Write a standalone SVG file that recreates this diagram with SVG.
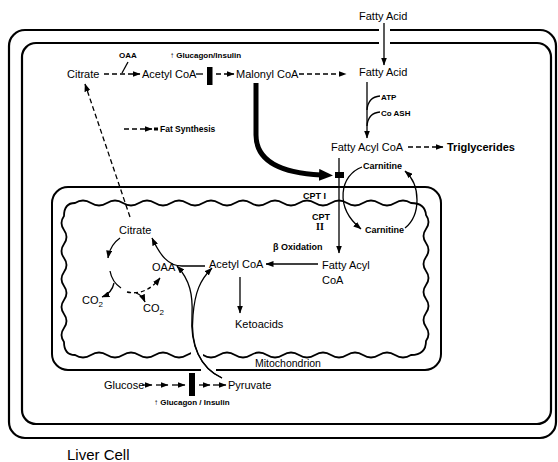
<svg xmlns="http://www.w3.org/2000/svg" width="558" height="462" viewBox="0 0 558 462">
<style>
text{font-family:"Liberation Sans",Arial,"DejaVu Sans",sans-serif;fill:#000}
.m{font-size:11px}
.s{font-size:8px;font-weight:bold}
.c{font-size:9px;font-weight:bold}
.b{fill:none;stroke:#000;stroke-width:2.2}
.w{fill:none;stroke:#000;stroke-width:1.8}
.l{fill:none;stroke:#000;stroke-width:1.3}
.d{fill:none;stroke:#000;stroke-width:1.3;stroke-dasharray:5 3}
.dd{fill:none;stroke:#000;stroke-width:1.3;stroke-dasharray:4 3}
.gap{fill:#fff;stroke:none}
</style>
<defs>
<marker id="ah" viewBox="0 0 8 6" refX="7.5" refY="3" markerWidth="8" markerHeight="6" markerUnits="userSpaceOnUse" orient="auto"><path d="M0,0 L8,3 L0,6 z"/></marker>
<marker id="big" viewBox="0 0 14 12" refX="2" refY="6" markerWidth="14" markerHeight="12" markerUnits="userSpaceOnUse" orient="auto"><path d="M0,0 L14,6 L0,12 z"/></marker>
</defs>

<g id="cell">
<rect class="b" x="9" y="30" width="547" height="408" rx="16"/>
<rect class="b" x="22" y="43" width="529" height="381" rx="14"/>
<rect class="gap" x="379" y="25" width="11" height="10"/>
<rect class="gap" x="379" y="38" width="11" height="10"/>
</g>

<g id="mitochondrion">
<rect class="b" x="52" y="187" width="389" height="183" rx="16" style="stroke-width:2"/>
<path class="w" d="M75,203 q8,-5 16,0 t16,0 t16,0 t16,0 t16,0 t16,0 t16,0 t16,0 t16,0 t16,0 t16,0 t16,0 t16,0 t16,0 t16,0 t16,0 t16,0 t16,0 t16,0 t16,0 t16,0 Q425,203 426,215 q5,7 0,14 t0,14 t0,14 t0,14 t0,14 t0,14 t0,14 t0,14 t0,14 Q426,355 411,355 q-8,5 -16,0 t-16,0 t-16,0 t-16,0 t-16,0 t-16,0 t-16,0 t-16,0 t-16,0 t-16,0 t-16,0 t-16,0 t-16,0 t-16,0 t-16,0 t-16,0 t-16,0 t-16,0 t-16,0 t-16,0 t-16,0 Q64,355 64,342 q-5,-7 0,-14 t0,-14 t0,-14 t0,-14 t0,-14 t0,-14 t0,-14 t0,-14 t0,-14 Q64,203 75,203 Z"/>
<rect class="gap" x="191" y="348" width="12" height="13"/>
<rect class="gap" x="201" y="367" width="15" height="7"/>
<text class="m" x="255" y="367" style="font-size:10.5px">Mitochondrion</text>
</g>

<g id="connectors">
<path class="l" d="M384,23 L384,65" marker-end="url(#ah)"/>
<path class="d" d="M104,74 L140,74" marker-end="url(#ah)"/>
<path class="l" d="M128,62 L122,73"/>
<path class="l" d="M196,74 L203,74"/>
<rect x="207" y="67" width="5.5" height="18"/>
<path class="d" d="M216,74 L234,74" marker-end="url(#ah)"/>
<path class="d" d="M299,74 L346,74" marker-end="url(#ah)"/>
<path class="l" d="M367,82 L367,138" marker-end="url(#ah)"/>
<path class="l" d="M380,96 Q368,97 367,110"/>
<path class="l" d="M380,112 Q368,113 367,126"/>
<path class="d" d="M408,147 L443,147" marker-end="url(#ah)"/>
<path class="d" d="M124,129 L152,129" marker-end="url(#ah)"/>
<rect x="154" y="127.5" width="4" height="3"/>
<path d="M256,83 L256,135 C256,162 282,173 321,175" fill="none" stroke="#000" stroke-width="5" marker-end="url(#big)"/>
<path class="d" d="M130,217 L85,84" marker-end="url(#ah)"/>
<path class="l" d="M339,158 L339,253" marker-end="url(#ah)"/>
<rect x="335" y="172" width="9" height="6"/>
<path class="l" d="M362,167 C340,175 334,207 361,229" marker-end="url(#ah)"/>
<path class="l" d="M405,228 C421,215 421,185 405,171" marker-end="url(#ah)"/>
<path class="l" d="M318,264 L266,264" marker-end="url(#ah)"/>
<path class="l" d="M240,277 L240,313" marker-end="url(#ah)"/>
<path class="l" d="M205,266 L182,266 C168,266 160,255 152,238" marker-end="url(#ah)"/>
<path class="l" d="M120,238 Q110,245 108,258" marker-end="url(#ah)"/>
<path class="l" d="M110,271 Q112,282 121,288"/>
<path class="l" d="M114,283 Q112,293 102,297" marker-end="url(#ah)"/>
<path class="dd" d="M127,292 Q146,296 160,278" marker-end="url(#ah)"/>
<path class="l" d="M136,293 Q142,295 145,302" marker-end="url(#ah)"/>
<path class="l" d="M222,378 C200,368 190,345 192,315 C193,295 190,280 177,266" marker-end="url(#ah)"/>
<path class="l" d="M222,378 C200,368 190,345 193,315 C195,292 200,280 212,268" marker-end="url(#ah)"/>
<path class="l" d="M142,385 L152,385" marker-end="url(#ah)"/>
<path class="l" d="M156,385 L168,385" marker-end="url(#ah)"/>
<path class="l" d="M172,385 L185,385" marker-end="url(#ah)"/>
<rect x="189" y="373" width="6" height="23"/>
<path class="l" d="M199,385 L210,385" marker-end="url(#ah)"/>
<path class="l" d="M213,385 L226,385" marker-end="url(#ah)"/>
</g>

<g id="labels">
<text class="m" x="359" y="20">Fatty Acid</text>
<text class="m" x="67" y="78">Citrate</text>
<text class="s" x="119" y="58">OAA</text>
<text class="s" x="170" y="58">↑ Glucagon/Insulin</text>
<text class="m" x="142" y="78">Acetyl CoA</text>
<text class="m" x="236" y="78">Malonyl CoA</text>
<text class="m" x="359" y="76">Fatty Acid</text>
<text class="s" x="381" y="100">ATP</text>
<text class="s" x="381" y="116">Co ASH</text>
<text class="m" x="331" y="151">Fatty Acyl CoA</text>
<text class="m" x="447" y="151" style="font-weight:bold">Triglycerides</text>
<text class="c" x="160" y="132" style="font-size:8.5px">Fat Synthesis</text>
<text class="c" x="363" y="169">Carnitine</text>
<text class="c" x="365" y="233">Carnitine</text>
<text class="c" x="303" y="199">CPT I</text>
<text class="c" x="312" y="220">CPT</text>
<text x="316" y="230" style="font-family:'Liberation Serif',serif;font-size:10px;font-weight:bold">II</text>
<text class="c" x="273" y="250">β Oxidation</text>
<text class="m" x="322" y="269">Fatty Acyl</text>
<text class="m" x="322" y="284">CoA</text>
<text class="m" x="209" y="268">Acetyl CoA</text>
<text class="m" x="235" y="328">Ketoacids</text>
<text class="m" x="119" y="234">Citrate</text>
<text class="m" x="152" y="271">OAA</text>
<text class="m" x="82" y="304">CO<tspan dy="3" style="font-size:8px">2</tspan></text>
<text class="m" x="143" y="312">CO<tspan dy="3" style="font-size:8px">2</tspan></text>
<text class="m" x="104" y="389">Glucose</text>
<text class="m" x="228" y="389">Pyruvate</text>
<text class="s" x="154" y="405">↑ Glucagon / Insulin</text>
<text x="67" y="460" style="font-size:15px">Liver Cell</text>
</g>
</svg>
